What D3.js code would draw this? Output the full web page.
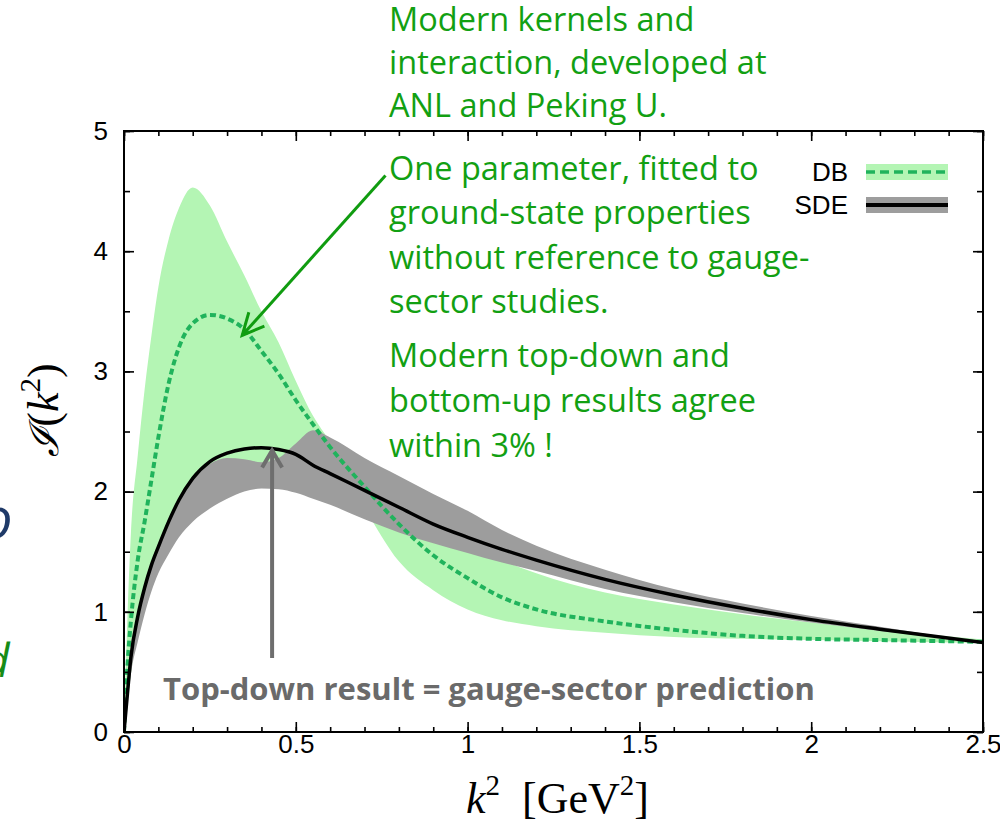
<!DOCTYPE html>
<html><head><meta charset="utf-8">
<script src="https://cdn.jsdelivr.net/npm/d3@7"></script>
<style>body{margin:0;background:#fff;overflow:hidden} svg{display:block}</style>
</head><body>
<svg id="c" width="1000" height="836"></svg>
<script>
// ---- data ----
const kSq        = [0, 0.01, 0.02, 0.04, 0.06, 0.08, 0.1, 0.13, 0.16, 0.2, 0.25, 0.3, 0.35, 0.4, 0.45, 0.5, 0.55, 0.6, 0.7, 0.8, 0.9, 1.0, 1.1, 1.2, 1.4, 1.6, 1.8, 2.0, 2.2, 2.5];
const dbCentral  = [0, 0.55, 0.92, 1.43, 1.75, 2.1, 2.45, 2.9, 3.2, 3.4, 3.47, 3.44, 3.35, 3.17, 2.98, 2.76, 2.56, 2.37, 2.04, 1.73, 1.47, 1.28, 1.12, 1.02, 0.92, 0.85, 0.8, 0.775, 0.765, 0.75];
const dbLow      = [0, 0.25, 0.48, 0.85, 1.1, 1.3, 1.45, 1.62, 1.77, 1.9, 2.02, 2.1, 2.16, 2.2, 2.26, 2.36, 2.5, 2.3, 1.86, 1.42, 1.18, 1.02, 0.93, 0.88, 0.825, 0.79, 0.775, 0.765, 0.755, 0.74];
const dbHigh     = [0, 0.95, 1.65, 2.3, 2.85, 3.3, 3.7, 4.1, 4.36, 4.53, 4.38, 4.08, 3.8, 3.5, 3.24, 2.92, 2.63, 2.42, 2.12, 1.9, 1.72, 1.57, 1.43, 1.32, 1.16, 1.06, 0.98, 0.91, 0.85, 0.77];
const sdeCentral = [0, 0.32, 0.62, 0.96, 1.2, 1.39, 1.54, 1.75, 1.93, 2.11, 2.25, 2.32, 2.355, 2.365, 2.35, 2.31, 2.22, 2.15, 2.01, 1.87, 1.73, 1.62, 1.52, 1.43, 1.27, 1.14, 1.03, 0.935, 0.855, 0.745];
const sdeLow     = [0, 0.24, 0.48, 0.75, 0.98, 1.17, 1.32, 1.48, 1.62, 1.75, 1.86, 1.94, 2.0, 2.025, 2.02, 1.99, 1.94, 1.89, 1.77, 1.66, 1.57, 1.49, 1.41, 1.34, 1.19, 1.08, 0.99, 0.91, 0.84, 0.745];
const sdeHigh    = [0, 0.31, 0.6, 0.94, 1.18, 1.37, 1.52, 1.73, 1.91, 2.1, 2.23, 2.28, 2.27, 2.245, 2.28, 2.4, 2.51, 2.45, 2.28, 2.13, 1.98, 1.84, 1.68, 1.55, 1.35, 1.19, 1.07, 0.965, 0.875, 0.745];

const xTicks = [0, 0.5, 1, 1.5, 2, 2.5];
const xTickLabels = ["0", "0.5", "1", "1.5", "2", "2.5"];
const yTicks = [0, 1, 2, 3, 4, 5];
const yTickLabels = ["0", "1", "2", "3", "4", "5"];
const legendLabels = ["DB", "SDE"];

const noteKernels = ["Modern kernels and", "interaction, developed at", "ANL and Peking U."];
const noteParam = ["One parameter, fitted to", "ground-state properties", "without reference to gauge-", "sector studies."];
const noteAgree = ["Modern top-down and", "bottom-up results agree", "within 3% !"];
const noteBottom = "Top-down result = gauge-sector prediction";

// ---- layout ----
const svg = d3.select("#c");
const L = 124, R = 983, T = 131, B = 732;
const x = d3.scaleLinear().domain([0, 2.5]).range([L, R]);
const y = d3.scaleLinear().domain([0, 5]).range([B, T]);

const GREEN_BAND = "#b4f5b4", GRAY_BAND = "#9d9d9d", DASH = "#20b35c", NOTE = "#12a012";

const rows = kSq.map((k, i) => ({k, dbc: dbCentral[i], dbl: dbLow[i], dbh: dbHigh[i], sc: sdeCentral[i], sl: sdeLow[i], sh: sdeHigh[i]}));

svg.append("defs").append("clipPath").attr("id", "plotclip")
  .append("rect").attr("x", L).attr("y", T).attr("width", R - L).attr("height", B - T);

const plot = svg.append("g").attr("clip-path", "url(#plotclip)");
const curve = d3.curveMonotoneX;

plot.append("path").datum(rows).attr("fill", GREEN_BAND)
  .attr("d", d3.area().curve(curve).x(d => x(d.k)).y0(d => y(d.dbl)).y1(d => y(d.dbh)));
plot.append("path").datum(rows).attr("fill", GRAY_BAND)
  .attr("d", d3.area().curve(curve).x(d => x(d.k)).y0(d => y(d.sl)).y1(d => y(d.sh)));
plot.append("path").datum(rows).attr("fill", "none").attr("stroke", DASH).attr("stroke-width", 4)
  .attr("stroke-dasharray", "6,3.5")
  .attr("d", d3.line().curve(curve).x(d => x(d.k)).y(d => y(d.dbc)));
plot.append("path").datum(rows).attr("fill", "none").attr("stroke", "#000").attr("stroke-width", 3.5)
  .attr("d", d3.line().curve(curve).x(d => x(d.k)).y(d => y(d.sc)));

// ---- axes ----
const tickFont = "Liberation Sans, Arial, Helvetica, sans-serif";
const xMinor = d3.range(0, 2.5001, 0.1).map(v => +v.toFixed(2));
const yMinor = d3.range(0, 5.0001, 0.5).map(v => +v.toFixed(2));

function styleAxis(g) {
  g.select(".domain").remove();
  g.selectAll("line").attr("stroke", "#000").attr("stroke-width", 1.6);
  g.selectAll("text").attr("font-family", tickFont).attr("font-size", 26).attr("fill", "#000");
}
svg.append("g").attr("transform", `translate(0,${B})`)
  .call(d3.axisBottom(x).tickValues(xMinor).tickSize(-5).tickFormat("")).call(styleAxis);
svg.append("g").attr("transform", `translate(0,${B})`)
  .call(d3.axisBottom(x).tickValues(xTicks).tickSize(-10).tickPadding(3).tickFormat((d, i) => xTickLabels[i])).call(styleAxis);
svg.append("g").attr("transform", `translate(0,${T})`)
  .call(d3.axisTop(x).tickValues(xMinor).tickSize(-5).tickFormat("")).call(styleAxis);
svg.append("g").attr("transform", `translate(0,${T})`)
  .call(d3.axisTop(x).tickValues(xTicks).tickSize(-10).tickFormat("")).call(styleAxis);
svg.append("g").attr("transform", `translate(${L},0)`)
  .call(d3.axisLeft(y).tickValues(yMinor).tickSize(-6).tickFormat("")).call(styleAxis);
svg.append("g").attr("transform", `translate(${L},0)`)
  .call(d3.axisLeft(y).tickValues(yTicks).tickSize(-10).tickPadding(16).tickFormat((d, i) => yTickLabels[i])).call(styleAxis);
svg.append("g").attr("transform", `translate(${R},0)`)
  .call(d3.axisRight(y).tickValues(yMinor).tickSize(-6).tickFormat("")).call(styleAxis);
svg.append("g").attr("transform", `translate(${R},0)`)
  .call(d3.axisRight(y).tickValues(yTicks).tickSize(-10).tickFormat("")).call(styleAxis);

svg.append("rect").attr("x", L).attr("y", T).attr("width", R - L).attr("height", B - T)
  .attr("fill", "none").attr("stroke", "#000").attr("stroke-width", 2);

// ---- axis titles ----
const serif = "Liberation Serif, Times New Roman, DejaVu Serif, serif";
const xt = svg.append("text").attr("x", (L + R) / 2 + 4).attr("y", 813).attr("text-anchor", "middle")
  .attr("font-family", serif).attr("font-size", 44).attr("fill", "#000");
xt.append("tspan").attr("font-style", "italic").text("k");
xt.append("tspan").attr("font-size", 29).attr("dy", -18).text("2");
xt.append("tspan").attr("dy", 18).text("\u2002[GeV");
xt.append("tspan").attr("font-size", 29).attr("dy", -18).text("2");
xt.append("tspan").attr("dy", 18).text("]");

const yt = svg.append("text").attr("transform", "translate(58,410) rotate(-90)").attr("text-anchor", "middle")
  .attr("font-family", serif).attr("font-size", 44).attr("fill", "#000");
yt.append("tspan").attr("font-family", "DejaVu Serif, serif").attr("font-style", "italic").attr("font-size", 40).text("\u2110");
yt.append("tspan").text("(");
yt.append("tspan").attr("font-style", "italic").text("k");
yt.append("tspan").attr("font-size", 29).attr("dy", -18).text("2");
yt.append("tspan").attr("dy", 18).text(")");

// ---- legend ----
const leg = svg.append("g");
const legRows = [
  {label: legendLabels[0], band: GREEN_BAND, stroke: DASH, dash: "9,5", w: 3.5, cy: 172},
  {label: legendLabels[1], band: GRAY_BAND, stroke: "#000", dash: null, w: 4, cy: 205}
];
legRows.forEach(r => {
  leg.append("text").attr("x", 848).attr("y", r.cy + 9).attr("text-anchor", "end")
    .attr("font-family", tickFont).attr("font-size", 26).text(r.label);
  leg.append("rect").attr("x", 866).attr("y", r.cy - 8).attr("width", 82).attr("height", 16).attr("fill", r.band);
  leg.append("line").attr("x1", 866).attr("x2", 948).attr("y1", r.cy).attr("y2", r.cy)
    .attr("stroke", r.stroke).attr("stroke-width", r.w).attr("stroke-dasharray", r.dash);
});

// ---- annotations ----
const noteFont = "Open Sans, Lato, sans-serif";
function block(lines, x0, y0, dy) {
  lines.forEach((t, i) => svg.append("text").attr("x", x0).attr("y", y0 + i * dy)
    .attr("font-family", noteFont).attr("font-size", 32.5).attr("fill", NOTE).text(t));
}
block(noteKernels, 389, 31, 43);
block(noteParam, 389, 180, 44.3);
block(noteAgree, 389, 367, 45);

svg.append("text").attr("x", 163).attr("y", 700).attr("font-family", noteFont).attr("font-weight", "bold")
  .attr("font-size", 31).attr("fill", "#6a6a6a").text(noteBottom);

// green arrow (data coordinates)
const gFrom = [0.761, 4.63], gTo = [0.344, 3.30];
svg.append("line").attr("x1", x(gFrom[0])).attr("y1", y(gFrom[1])).attr("x2", x(gTo[0])).attr("y2", y(gTo[1]))
  .attr("stroke", "#109c10").attr("stroke-width", 3);
(function head(tx, ty, fx, fy, col, len, w) {
  const a = Math.atan2(ty - fy, tx - fx);
  const p = s => [tx - len * Math.cos(a + s), ty - len * Math.sin(a + s)];
  const [p1, p2] = [p(0.45), p(-0.45)];
  svg.append("path").attr("d", `M${p1[0]},${p1[1]}L${tx},${ty}L${p2[0]},${p2[1]}`)
    .attr("fill", "none").attr("stroke", col).attr("stroke-width", w).attr("stroke-linejoin", "miter");
})(x(gTo[0]), y(gTo[1]), x(gFrom[0]), y(gFrom[1]), "#109c10", 24, 3);

// gray arrow
const aX = 0.431, aFrom = 0.615, aTo = 2.35;
svg.append("line").attr("x1", x(aX)).attr("x2", x(aX)).attr("y1", y(aFrom)).attr("y2", y(aTo))
  .attr("stroke", "#6e6e6e").attr("stroke-width", 4);
svg.append("path").attr("d", `M${x(aX) - 10},${y(aTo) + 18}L${x(aX)},${y(aTo) + 1}L${x(aX) + 10},${y(aTo) + 18}`)
  .attr("fill", "none").attr("stroke", "#6e6e6e").attr("stroke-width", 4);

// cut-off slide text on the left edge
svg.append("text").attr("x", -19).attr("y", 538).attr("font-family", noteFont).attr("font-style", "italic")
  .attr("font-size", 56).attr("fill", "#1f3a68").text("o");
svg.append("text").attr("x", -17).attr("y", 677).attr("font-family", noteFont).attr("font-style", "italic")
  .attr("font-size", 46).attr("fill", "#168c16").text("d");
</script>
</body></html>
